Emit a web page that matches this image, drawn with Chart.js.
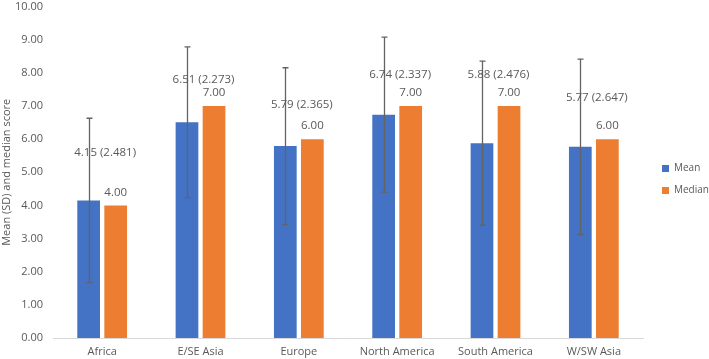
<!DOCTYPE html>
<html>
<head>
<meta charset="utf-8">
<script src="https://cdn.jsdelivr.net/npm/chart.js@4/dist/chart.umd.min.js"></script>
<style>
  html, body { margin: 0; padding: 0; background: #fff; }
  #wrap { width: 709px; height: 359px; }
</style>
</head>
<body>
<div id="wrap"><canvas id="chart"></canvas></div>
<script>
const regions = ["Africa", "E/SE Asia", "Europe", "North America", "South America", "W/SW Asia"];
const meanScore = [4.15, 6.51, 5.79, 6.74, 5.88, 5.77];
const sdScore = [2.481, 2.273, 2.365, 2.337, 2.476, 2.647];
const medianScore = [4.00, 7.00, 6.00, 7.00, 7.00, 6.00];
const yTicks = [0, 1, 2, 3, 4, 5, 6, 7, 8, 9, 10];

// how far the mean label sits above the taller bar (px), as placed in the original
const meanLabelLift = [48, 26, 34, 31, 31, 41];

const BLUE = "#4472C4";
const ORANGE = "#ED7D31";
const TEXT = "#595959";
const FONT = "'Open Sans', sans-serif";

const LEGEND_WIDTH = 66;
const LEGEND_SHIFT = 7;

const errorBarsAndLabels = {
  id: "errorBarsAndLabels",
  afterInit(chart) {
    // fixed legend width, like the original's right-hand key
    const legend = chart.legend;
    const fit = legend.fit.bind(legend);
    legend.fit = function () {
      fit();
      this.width = LEGEND_WIDTH;
    };
  },
  afterLayout(chart) {
    chart.legend.left += LEGEND_SHIFT;
    chart.legend.right += LEGEND_SHIFT;
  },
  afterDatasetsDraw(chart) {
    const ctx = chart.ctx;
    const y = chart.scales.y;
    const meanBars = chart.getDatasetMeta(0).data;
    const medBars = chart.getDatasetMeta(1).data;

    ctx.save();

    // error bars on the mean
    ctx.strokeStyle = "#636363";
    ctx.lineWidth = 1.3;
    meanBars.forEach((bar, i) => {
      const x = Math.round(bar.x) + 0.5;
      const top = y.getPixelForValue(meanScore[i] + sdScore[i]);
      const bot = y.getPixelForValue(meanScore[i] - sdScore[i]);
      ctx.beginPath();
      ctx.moveTo(x, top);
      ctx.lineTo(x, bot);
      ctx.moveTo(x - 3, top);
      ctx.lineTo(x + 3, top);
      ctx.moveTo(x - 3, bot);
      ctx.lineTo(x + 3, bot);
      ctx.stroke();
    });

    // value labels
    ctx.fillStyle = TEXT;
    ctx.font = "11.5px " + FONT;
    ctx.textAlign = "center";
    ctx.textBaseline = "middle";
    medBars.forEach((bar, i) => {
      ctx.fillText(medianScore[i].toFixed(2), bar.x, bar.y - 13);
    });
    meanBars.forEach((bar, i) => {
      const topPx = Math.min(bar.y, medBars[i].y);
      const cx = (bar.x + medBars[i].x) / 2 + 3;
      const label = meanScore[i].toFixed(2) + " (" + sdScore[i].toFixed(3) + ")";
      ctx.fillText(label, cx, topPx - meanLabelLift[i]);
    });

    ctx.restore();
  }
};

new Chart(document.getElementById("chart"), {
  type: "bar",
  data: {
    labels: regions,
    datasets: [
      {
        label: "Mean",
        data: meanScore,
        backgroundColor: BLUE,
        categoryPercentage: 0.55,
        barPercentage: 0.84
      },
      {
        label: "Median",
        data: medianScore,
        backgroundColor: ORANGE,
        categoryPercentage: 0.55,
        barPercentage: 0.84
      }
    ]
  },
  options: {
    responsive: true,
    maintainAspectRatio: false,
    animation: false,
    layout: {
      padding: 0
    },
    scales: {
      x: {
        grid: { display: false, tickLength: 7 },
        border: { color: "#d9d9d9", width: 1 },
        afterFit(axis) { axis.height = 21; },
        ticks: {
          color: TEXT,
          font: { family: FONT, size: 11 },
          padding: 0,
          maxRotation: 0
        }
      },
      y: {
        min: 0,
        max: 10,
        afterBuildTicks(axis) {
          axis.ticks = yTicks.map(v => ({ value: v }));
        },
        afterFit(axis) { axis.width = 53; },
        grid: { display: false, tickLength: 10 },
        border: { display: false },
        ticks: {
          color: TEXT,
          font: { family: FONT, size: 11 },
          padding: 0,
          callback: v => Number(v).toFixed(2)
        },
        title: {
          display: true,
          text: "Mean (SD) and median score",
          color: TEXT,
          font: { family: FONT, size: 11 },
          padding: { top: 0, bottom: 0 }
        }
      }
    },
    plugins: {
      legend: {
        position: "right",
        labels: {
          color: TEXT,
          font: { family: FONT, size: 10 },
          boxWidth: 7,
          boxHeight: 7,
          padding: 12
        }
      },
      tooltip: { enabled: false }
    }
  },
  plugins: [errorBarsAndLabels]
});
</script>
</body>
</html>
